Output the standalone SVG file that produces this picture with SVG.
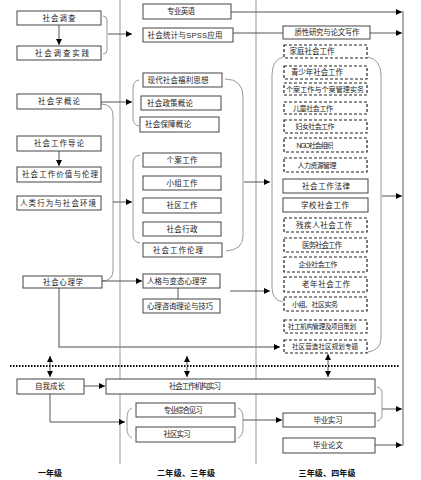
<svg xmlns="http://www.w3.org/2000/svg" width="421" height="480" viewBox="0 0 421 480">
<style>
.b{fill:#fff;stroke:#444;stroke-width:1}
.d{fill:#fff;stroke:#222;stroke-width:1.2;stroke-dasharray:3,2}
.t{font-family:"Liberation Sans","Noto Sans CJK SC",sans-serif;font-size:7.5px;fill:#222;text-anchor:middle;dominant-baseline:central}
.l{text-anchor:start}
.y{font-size:8px;font-weight:bold;fill:#111}
.c{fill:none;stroke:#555;stroke-width:1}
.k{fill:none;stroke:#999;stroke-width:1}
.col{fill:none;stroke:#bbb;stroke-width:1.5}
</style>
<defs>
<marker id="a" markerWidth="6" markerHeight="6" refX="6" refY="3" orient="auto" markerUnits="userSpaceOnUse"><path d="M0,0 L6,3 L0,6 z" fill="#000"/></marker>
</defs>
<rect width="421" height="480" fill="#fff"/>
<g id="columns">
<line class="col" x1="120" y1="0" x2="120" y2="464"/>
<line class="col" x1="256" y1="0" x2="256" y2="464"/>
</g>
<g id="connectors">
<line class="c" x1="59" y1="25" x2="59" y2="45" marker-end="url(#a)"/>
<line class="c" x1="59" y1="151" x2="59" y2="166" marker-end="url(#a)"/>
<path class="k" d="M103,16 Q107,16 107,20 L107,50 Q107,54 103,54"/>
<line class="c" x1="108" y1="34" x2="132" y2="34" marker-end="url(#a)"/>
<line class="c" x1="101" y1="102" x2="132" y2="102" marker-end="url(#a)"/>
<path class="k" d="M101,104 Q113,104 113,116 L113,270 Q113,281 102,281"/>
<line class="c" x1="113" y1="202" x2="132" y2="202" marker-end="url(#a)"/>
<path class="k" d="M139,80 Q133,81 133,88 L133,118 Q133,125 139,126"/>
<path class="k" d="M140,155 Q133,156 133,163 L133,235 Q133,242 140,243"/>
<path class="k" d="M225,79 Q243,79 243,97 L243,236 Q243,250 226,251"/>
<line class="c" x1="244" y1="182" x2="270" y2="182" marker-end="url(#a)"/>
<line class="c" x1="102" y1="281" x2="142" y2="281" marker-end="url(#a)"/>
<line class="c" x1="178" y1="288" x2="178" y2="299"/>
<line class="c" x1="230" y1="291" x2="270" y2="291" marker-end="url(#a)"/>
<line class="c" x1="231" y1="12" x2="402" y2="12" marker-end="url(#a)"/>
<line class="c" x1="233" y1="33" x2="283" y2="33"/>
<line class="c" x1="370" y1="33" x2="402" y2="33" marker-end="url(#a)"/>
<path class="k" d="M283,57 Q272,60 272,75 L272,288 Q272,300 283,302"/>
<path class="k" d="M368,57 Q381,60 381,75 L381,338 Q381,350 368,352"/>
<line class="c" x1="382" y1="196" x2="402" y2="196" marker-end="url(#a)"/>
<line x1="403" y1="11" x2="403" y2="446" stroke="#777" stroke-width="1.2"/>
<path fill="none" stroke="#888" stroke-width="1.5" d="M59,288 L59,347 L280,347" marker-end="url(#a)"/>
<line x1="10" y1="366" x2="400" y2="366" stroke="#000" stroke-width="2" stroke-dasharray="1.5,1.5"/>
<line class="c" x1="50" y1="365" x2="50" y2="356" marker-end="url(#a)"/>
<line class="c" x1="50" y1="367" x2="50" y2="377" marker-end="url(#a)"/>
<line class="c" x1="187" y1="365" x2="187" y2="356" marker-end="url(#a)"/>
<line class="c" x1="187" y1="367" x2="187" y2="377" marker-end="url(#a)"/>
<line class="c" x1="328" y1="365" x2="328" y2="354" marker-end="url(#a)"/>
<line class="c" x1="328" y1="367" x2="328" y2="377" marker-end="url(#a)"/>
<line class="c" x1="84" y1="386" x2="105" y2="386" marker-end="url(#a)"/>
<path class="c" d="M50,394 L50,422 L125,422" marker-end="url(#a)"/>
<path class="k" d="M132,408 Q127,410 127,418 L127,428 Q127,436 132,438"/>
<path class="k" d="M238,408 Q243,410 243,418 L243,428 Q243,436 238,438"/>
<line class="c" x1="243" y1="420" x2="282" y2="420" marker-end="url(#a)"/>
<path class="k" d="M377,387 Q382,388 382,393 L382,415 Q382,420 377,421"/>
<line class="c" x1="382" y1="409" x2="402" y2="409" marker-end="url(#a)"/>
<line class="c" x1="375" y1="445" x2="402" y2="445" marker-end="url(#a)"/>
</g>
<g id="n-shdc"><rect class="b" x="17" y="11" width="84" height="14"/><text class="t" x="59" y="18" textLength="33">社会调查</text></g>
<g id="n-shdcsj"><rect class="b" x="17" y="46" width="84" height="14"/><text class="t" x="62" y="53" textLength="54">社会调查实践</text></g>
<g id="n-shxgl"><rect class="b" x="17" y="94" width="84" height="15"/><text class="t" x="59" y="101.5" textLength="42">社会学概论</text></g>
<g id="n-shgzdl"><rect class="b" x="17" y="136" width="84" height="15"/><text class="t" x="59" y="143.5" textLength="50">社会工作导论</text></g>
<g id="n-jzll"><rect class="b" x="17" y="167" width="84" height="15"/><text class="t" x="60" y="174.5" textLength="76">社会工作价值与伦理</text></g>
<g id="n-rlxw"><rect class="b" x="17" y="196" width="84" height="14"/><text class="t" x="58" y="203" textLength="76">人类行为与社会环境</text></g>
<g id="n-shxlx"><rect class="b" x="23" y="276" width="79" height="12"/><text class="t" x="63" y="282" textLength="40">社会心理学</text></g>
<g id="n-zwcz"><rect class="b" x="17" y="379" width="67" height="15"/><text class="t" x="50" y="386.5" textLength="30">自我成长</text></g>
<g id="n-zyyy"><rect class="b" x="143" y="4" width="88" height="15"/><text class="t" x="181" y="11.5" textLength="28">专业英语</text></g>
<g id="n-spss"><rect class="b" x="143" y="28" width="90" height="14"/><text class="t" x="185" y="35" textLength="75">社会统计与SPSS应用</text></g>
<g id="n-xdfl"><rect class="b" x="143" y="73" width="79" height="14"/><text class="t" x="178" y="80" textLength="61">现代社会福利思想</text></g>
<g id="n-zcgl"><rect class="b" x="141" y="96" width="80" height="14"/><text class="t l" x="147" y="103" textLength="46">社会政策概论</text></g>
<g id="n-bzgl"><rect class="b" x="140" y="117" width="79" height="15"/><text class="t l" x="145" y="124.5" textLength="46">社会保障概论</text></g>
<g id="n-gagz"><rect class="b" x="143" y="153" width="78" height="14"/><text class="t" x="182" y="160" textLength="31">个案工作</text></g>
<g id="n-xzgz"><rect class="b" x="143" y="176" width="78" height="14"/><text class="t" x="182" y="183" textLength="31">小组工作</text></g>
<g id="n-sqgz"><rect class="b" x="143" y="198" width="78" height="15"/><text class="t" x="182" y="205.5" textLength="31">社区工作</text></g>
<g id="n-shxz"><rect class="b" x="143" y="222" width="78" height="14"/><text class="t" x="182" y="229" textLength="31">社会行政</text></g>
<g id="n-gzll"><rect class="b" x="143" y="243" width="79" height="14"/><text class="t" x="178" y="250" textLength="50">社会工作伦理</text></g>
<g id="n-rgbt"><rect class="b" x="143" y="274" width="77" height="14"/><text class="t" x="177" y="281" textLength="60">人格与变态心理学</text></g>
<g id="n-xlzx"><rect class="b" x="143" y="299" width="77" height="14"/><text class="t" x="180" y="306" textLength="66">心理咨询理论与技巧</text></g>
<g id="n-jgsx"><rect class="b" x="106" y="379" width="269" height="15"/><text class="t" x="195" y="386.5" textLength="52">社会工作机构实习</text></g>
<g id="n-zyjx"><rect class="b" x="136" y="403" width="99" height="14"/><text class="t" x="183" y="410" textLength="39">专业综合见习</text></g>
<g id="n-sqsx"><rect class="b" x="136" y="427" width="99" height="15"/><text class="t" x="177" y="434.5" textLength="27">社区实习</text></g>
<g id="n-zxyj"><rect class="b" x="283" y="26" width="87" height="13"/><text class="t" x="327" y="32.5" textLength="65">质性研究与论文写作</text></g>
<g id="n-jtgz"><rect class="d" x="284" y="45" width="83" height="13"/><text class="t" x="312" y="51.5" textLength="45">家庭社会工作</text></g>
<g id="n-qsn"><rect class="d" x="284" y="66" width="83" height="13"/><text class="t" x="317" y="72.5" textLength="52">青少年社会工作</text></g>
<g id="n-gagl"><rect class="d" x="284" y="83" width="83" height="12"/><text class="t" x="325" y="89" textLength="78" style="font-size:7px">个案工作与个案管理实务</text></g>
<g id="n-etgz"><rect class="d" x="284" y="102" width="83" height="12"/><text class="t" x="313" y="108" textLength="40" style="font-size:7px">儿童社会工作</text></g>
<g id="n-fngz"><rect class="d" x="284" y="120" width="83" height="13"/><text class="t" x="315" y="126.5" textLength="39" style="font-size:7px">妇女社会工作</text></g>
<g id="n-ngo"><rect class="d" x="284" y="138" width="83" height="14"/><text class="t" x="315" y="145" textLength="37" style="font-size:7px">NGO社会组织</text></g>
<g id="n-rlzy"><rect class="d" x="284" y="158" width="83" height="14"/><text class="t" x="317" y="165" textLength="39" style="font-size:7px">人力资源管理</text></g>
<g id="n-fl"><rect class="b" x="283" y="179" width="85" height="14"/><text class="t" x="326" y="186" textLength="48">社会工作法律</text></g>
<g id="n-xxgz"><rect class="b" x="283" y="198" width="85" height="14"/><text class="t" x="325" y="205" textLength="48">学校社会工作</text></g>
<g id="n-cjr"><rect class="d" x="284" y="218" width="83" height="14"/><text class="t" x="324" y="225" textLength="56">残疾人社会工作</text></g>
<g id="n-ywgz"><rect class="d" x="284" y="238" width="83" height="14"/><text class="t" x="322" y="245" textLength="40">医务社会工作</text></g>
<g id="n-qygz"><rect class="d" x="284" y="257" width="83" height="15"/><text class="t" x="318" y="264.5" textLength="39" style="font-size:7px">企业社会工作</text></g>
<g id="n-lngz"><rect class="d" x="284" y="277" width="83" height="15"/><text class="t" x="326" y="284.5" textLength="48">老年社会工作</text></g>
<g id="n-xzsq"><rect class="d" x="284" y="297" width="83" height="14"/><text class="t" x="315" y="304" textLength="46" style="font-size:7px">小组、社区实务</text></g>
<g id="n-sgjg"><rect class="d" x="284" y="320" width="83" height="13"/><text class="t" x="322" y="326.5" textLength="68" style="font-size:6.5px">社工机构管理及项目策划</text></g>
<g id="n-sqyz"><rect class="d" x="284" y="340" width="83" height="13"/><text class="t" x="325" y="346.5" textLength="66" style="font-size:6.5px">社区营造社区规划专题</text></g>
<g id="n-bysx"><rect class="b" x="283" y="413" width="92" height="14"/><text class="t" x="328" y="420" textLength="29">毕业实习</text></g>
<g id="n-bylw"><rect class="b" x="283" y="438" width="92" height="15"/><text class="t" x="328" y="445.5" textLength="30">毕业论文</text></g>
<g id="labels">
<text class="t y" x="50" y="473" textLength="24">一年级</text>
<text class="t y" x="186" y="473" textLength="58">二年级、三年级</text>
<text class="t y" x="327" y="473" textLength="57">三年级、四年级</text>
</g>
</svg>
